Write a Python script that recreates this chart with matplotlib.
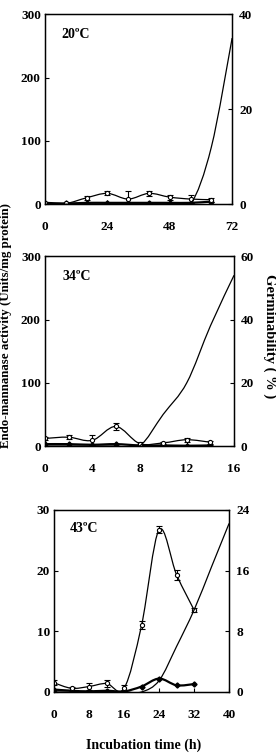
import matplotlib
matplotlib.use("Agg")
import matplotlib.pyplot as plt
from matplotlib.path import Path
from matplotlib.patches import PathPatch

plt.rcParams['font.family'] = ['Liberation Serif', 'DejaVu Serif']
plt.rcParams['font.weight'] = 'bold'

# DATA - 20 C
t20 = [0, 8, 16, 24, 32, 40, 48, 56, 64]
open20 = [2, 1, 10, 17, 8, 17, 11, 8, 7]
open20_err = [1, 1, 3, 3, 13, 4, 4, 6, 3]
filled20 = [2, 1, 2, 2, 2, 2, 2, 2, 4]
tg20 = [0, 8, 16, 24, 32, 40, 48, 56, 64, 72]
germ20 = [0, 0, 0, 0, 0, 0, 0, 0, 12, 35]

# DATA - 34 C
t34 = [0, 2, 4, 6, 8, 10, 12, 14]
open34 = [12, 14, 9, 31, 4, 5, 10, 6]
open34_err = [2, 3, 8, 5, 2, 2, 3, 2]
filled34 = [3, 3, 2, 3, 1, 1, 0.5, 1]
tg34 = [0, 2, 4, 6, 8, 10, 12, 14, 16]
germ34 = [0, 0, 0, 0, 0, 10, 20, 38, 54]

# DATA - 43 C
t43 = [0, 4, 8, 12, 16, 20, 24, 28, 32]
open43 = [1.5, 0.6, 0.9, 1.4, 0.6, 11, 26.7, 19.3, 13.5]
open43_err = [0.4, 0.3, 0.5, 0.5, 0.5, 0.7, 0.6, 0.8, 0.3]
filled43 = [0.4, 0.2, 0.1, 0.2, 0.1, 0.9, 2.2, 1.1, 1.3]
tg43 = [0, 4, 8, 12, 16, 20, 24, 28, 32, 36, 40]
germ43 = [0, 0, 0, 0, 0, 0, 1.5, 6, 10.8, 16.5, 22.2]


# SMOOTHED LINE (EXCEL STYLE) THROUGH THE DATA POINTS AS BEZIER PATH
def smooth_line(ax, x, y, **kw):
    n = len(x)
    verts = [(x[0], y[0])]
    codes = [Path.MOVETO]
    for i in range(n - 1):
        x0, y0 = (x[i - 1], y[i - 1]) if i > 0 else (x[i], y[i])
        x3, y3 = (x[i + 2], y[i + 2]) if i + 2 < n else (x[i + 1], y[i + 1])
        c1 = (x[i] + (x[i + 1] - x0) / 6, y[i] + (y[i + 1] - y0) / 6)
        c2 = (x[i + 1] - (x3 - x[i]) / 6, y[i + 1] - (y3 - y[i]) / 6)
        verts += [c1, c2, (x[i + 1], y[i + 1])]
        codes += [Path.CURVE4] * 3
    ax.add_patch(PathPatch(Path(verts, codes), fill=False, **kw))


def panel(rect, t, op, op_err, fi, tg, germ, xmax, xticks, ymax, yticks, gmax, gticks, label):
    ax = fig.add_axes(rect)
    smooth_line(ax, t, op, lw=0.9, edgecolor='black', zorder=3)
    smooth_line(ax, t, fi, lw=1.6, edgecolor='black', zorder=3)
    ax.errorbar(t, op, yerr=op_err, fmt='o', ms=3, mfc='white', mec='black',
                mew=0.8, ecolor='black', elinewidth=0.8, capsize=2, zorder=4)
    ax.plot(t, fi, 'D', ms=2.6, color='black', zorder=4)
    ax.set_xlim(0, xmax)
    ax.set_ylim(0, ymax)
    ax.set_xticks(xticks)
    ax.set_yticks(yticks)
    ax.tick_params(axis='x', direction='in', length=3, pad=12, labelsize=9.5)
    ax.tick_params(axis='y', direction='in', length=3, pad=3, labelsize=9.5)
    ax.text(0.09, 0.895, label, transform=ax.transAxes, fontsize=10,
            fontweight='bold', va='center')
    for s in ax.spines.values():
        s.set_linewidth(1.0)
    ax2 = ax.twinx()
    smooth_line(ax2, tg, germ, lw=0.9, edgecolor='black', zorder=3)
    ax2.set_ylim(0, gmax)
    ax2.set_yticks(gticks)
    ax2.tick_params(axis='y', direction='in', length=3, pad=5, labelsize=9.5)
    return ax, ax2


fig = plt.figure(figsize=(2.76, 7.56), dpi=100)

panel([0.163, 0.730, 0.678, 0.251], t20, open20, open20_err, filled20, tg20, germ20,
      72, [0, 24, 48, 72], 300, [0, 100, 200, 300], 40, [0, 20, 40], '20ºC')
panel([0.163, 0.410, 0.685, 0.251], t34, open34, open34_err, filled34, tg34, germ34,
      16, [0, 4, 8, 12, 16], 300, [0, 100, 200, 300], 60, [0, 20, 40, 60], '34ºC')
panel([0.196, 0.0847, 0.634, 0.241], t43, open43, open43_err, filled43, tg43, germ43,
      40, [0, 8, 16, 24, 32, 40], 30, [0, 10, 20, 30], 24, [0, 8, 16, 24], '43ºC')

fig.text(0.52, 1 - 745 / 756, 'Incubation time (h)', ha='center', va='center',
         fontsize=10, fontweight='bold')
fig.text(6.5 / 276, 1 - 325 / 756, 'Endo-mannanase activity (Units/mg protein)',
         rotation=90, ha='center', va='center', fontsize=9.3, fontweight='bold')
fig.text(269.5 / 276, 1 - 336 / 756, 'Germinability ( % )', rotation=270,
         ha='center', va='center', fontsize=10.5, fontweight='bold')

fig.savefig('out.png', dpi=100)
